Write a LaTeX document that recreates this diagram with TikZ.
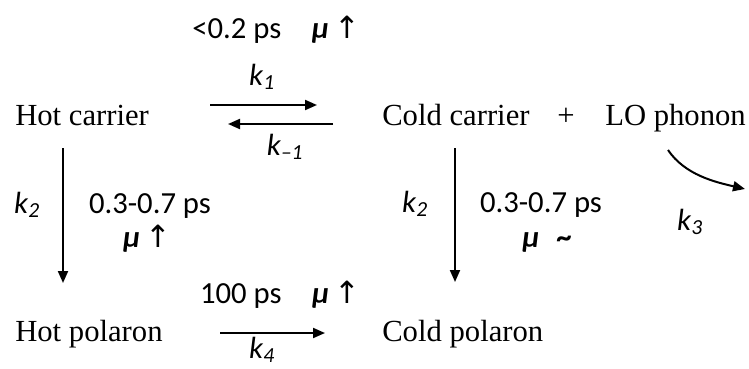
\documentclass[tikz,border=0pt]{standalone}
\usepackage{fontspec}
\setmainfont{Liberation Serif}
\newfontfamily\labelfont{Carlito}
\newfontfamily\symfont{DejaVu Sans}
\usetikzlibrary{arrows.meta}
\newcommand{\rate}[1]{\textit{k}\textsubscript{\textit{#1}}}
\newcommand{\mob}{\textbf{\textit{μ}}}
\newcommand{\up}{{\symfont ↑}}

\begin{document}
\begin{tikzpicture}[x=0.75pt, y=-0.75pt,
  species/.style={font=\fontsize{23}{27}\selectfont, inner sep=0pt, anchor=base west},
  lab/.style={font=\labelfont\fontsize{23}{27}\selectfont, inner sep=0pt, anchor=base},
  rxn/.style={line width=1.5pt, -{Triangle[length=9pt,width=7.5pt]}}]
\useasboundingbox (0,0) rectangle (749,368);
% species
\node[species] (hotc) at (15,125) {Hot carrier};
\node[species] (coldc) at (382,125) {Cold carrier};
\node[species] (plus) at (557,125) {+};
\node[species] (lo) at (605,125) {LO phonon};
\node[species] (hotp) at (15,341) {Hot polaron};
\node[species] (coldp) at (382,341) {Cold polaron};
% arrow ends
\coordinate (fwdA) at (210,105);
\coordinate (fwdB) at (317,105);
\coordinate (bwdA) at (333,124);
\coordinate (bwdB) at (228,124);
\coordinate (hotA) at (63,148);
\coordinate (hotB) at (63,283);
\coordinate (coldA) at (455,148);
\coordinate (coldB) at (455,282);
\coordinate (polA) at (220,333);
\coordinate (polB) at (325,333);
\coordinate (loA) at (668,150);
\coordinate (loB) at (745,189);
\draw[rxn] (fwdA) -- (fwdB);
\draw[rxn] (bwdA) -- (bwdB);
\draw[rxn] (hotA) -- (hotB);
\draw[rxn] (coldA) -- (coldB);
\draw[rxn] (polA) -- (polB);
\draw[rxn] (loA) .. controls (685,175) and (715,182) .. (loB);
% labels
\node[lab] (t1) at (276,38) {<0.2 ps\quad\mob\,\up};
\node[lab] (k1) at (262,85) {\rate{1}};
\node[lab] (km1) at (285,155) {\rate{–1}};
\node[lab] (k2a) at (27,213) {\rate{2}};
\node[lab] (t2a) at (150,213) {0.3-0.7 ps};
\node[lab] (m2a) at (147,247) {\mob\,\up};
\node[lab] (k2b) at (415,212) {\rate{2}};
\node[lab] (t2b) at (541,212) {0.3-0.7 ps};
\node[lab] (m2b) at (547,247) {\mob\;\;\textbf{\textasciitilde}};
\node[lab] (k3) at (690,230) {\rate{3}};
\node[lab] (t4) at (280,303) {100 ps\quad\mob\,\up};
\node[lab] (k4) at (262,358) {\rate{4}};
\end{tikzpicture}
\end{document}
